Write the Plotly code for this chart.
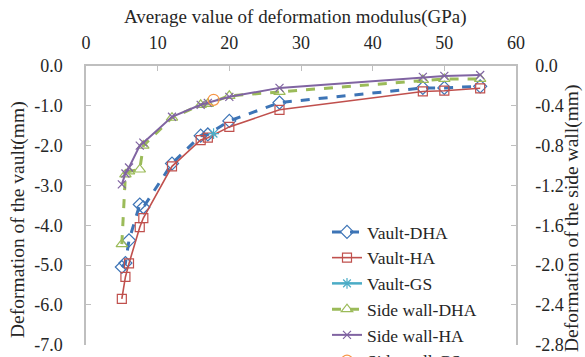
import plotly.graph_objects as go

# Average deformation modulus (GPa)
x_vals = [5, 5.5, 6, 7.5, 8, 12, 16, 17, 20, 27, 47, 50, 55]

vault_dha = [-5.05, -4.95, -4.38, -3.48, -3.55, -2.45, -1.75, -1.72, -1.38, -0.92, -0.55, -0.55, -0.51]
vault_ha = [-5.85, -5.30, -4.96, -4.05, -3.82, -2.52, -1.86, -1.80, -1.53, -1.10, -0.64, -0.62, -0.56]
side_dha = [-1.79, -1.09, -1.06, -1.04, -0.80, -0.52, -0.39, -0.38, -0.30, -0.26, -0.14, -0.13, -0.13]
side_ha = [-1.19, -1.08, -1.02, -0.80, -0.77, -0.51, -0.39, -0.37, -0.31, -0.22, -0.11, -0.10, -0.09]

gs_x = [17.8]
vault_gs = [-1.70]
side_gs = [-0.34]

x_ticks = [0, 10, 20, 30, 40, 50, 60]
y1_ticks = [0, -1, -2, -3, -4, -5, -6, -7]
y1_labels = ["0.0", "-1.0", "-2.0", "-3.0", "-4.0", "-5.0", "-6.0", "-7.0"]
y2_ticks = [0, -0.4, -0.8, -1.2, -1.6, -2.0, -2.4, -2.8]
y2_labels = ["0.0", "-0.4", "-0.8", "-1.2", "-1.6", "-2.0", "-2.4", "-2.8"]

FONT = "Liberation Serif"
AXIS_COL = "#bfbfbf"

W, H = 585, 357
L, R, T, B = 86, 69, 66, 12
PW, PH = W - L - R, H - T - B


def px_x(v):
    return (v - L) / PW


def px_y(v):
    return (H - B - v) / PH


fig = go.Figure()
fig.add_trace(go.Scatter(x=x_vals, y=vault_dha, name="Vault-DHA", mode="lines+markers",
                         line=dict(color="#3d74b6", width=3, dash="dash"),
                         marker=dict(symbol="diamond-open", size=10, color="#3d74b6", line=dict(width=1.2))))
fig.add_trace(go.Scatter(x=x_vals, y=vault_ha, name="Vault-HA", mode="lines+markers",
                         line=dict(color="#c0504d", width=1.6),
                         marker=dict(symbol="square-open", size=9, color="#c0504d", line=dict(width=1.2))))
fig.add_trace(go.Scatter(x=gs_x, y=vault_gs, name="Vault-GS", mode="lines+markers",
                         line=dict(color="#4bacc6", width=2.5),
                         marker=dict(symbol="asterisk-open", size=9, color="#4bacc6", line=dict(width=1.2, color="#4bacc6"))))
fig.add_trace(go.Scatter(x=x_vals, y=side_dha, name="Side wall-DHA", mode="lines+markers", yaxis="y2",
                         line=dict(color="#9bbb59", width=3, dash="dash"),
                         marker=dict(symbol="triangle-up-open", size=10, color="#9bbb59", line=dict(width=1.2))))
fig.add_trace(go.Scatter(x=x_vals, y=side_ha, name="Side wall-HA", mode="lines+markers", yaxis="y2",
                         line=dict(color="#8064a2", width=2),
                         marker=dict(symbol="x-thin-open", size=8, color="#8064a2", line=dict(width=1.2, color="#8064a2"))))
fig.add_trace(go.Scatter(x=gs_x, y=side_gs, name="Side wall-GS", mode="lines+markers", yaxis="y2",
                         line=dict(color="#f79646", width=2.5),
                         marker=dict(symbol="circle-open", size=11, color="#f79646", line=dict(width=1.2))))

fig.update_layout(
    width=W, height=H,
    margin=dict(l=L, r=R, t=T, b=B, autoexpand=False),
    paper_bgcolor="white", plot_bgcolor="white",
    font=dict(family=FONT, size=18, color="#262626"),
    showlegend=True,
    legend=dict(x=px_x(327), y=px_y(214), xanchor="left", yanchor="top",
                bgcolor="rgba(0,0,0,0)", font=dict(size=17.5, family=FONT),
                tracegroupgap=0, itemwidth=30),
    xaxis=dict(range=[0, 60], side="top", tickvals=x_ticks, ticks="inside", ticklen=5,
               tickcolor=AXIS_COL, showline=True, linecolor=AXIS_COL, linewidth=1.5,
               showgrid=False, zeroline=False, ticklabelstandoff=8),
    yaxis=dict(range=[-7.01, 0], tickvals=y1_ticks, ticktext=y1_labels, ticks="inside", ticklen=5,
               tickcolor=AXIS_COL, showline=True, linecolor=AXIS_COL, linewidth=1.5,
               showgrid=False, zeroline=False, ticklabelstandoff=18, ticklabeloverflow="allow"),
    yaxis2=dict(range=[-2.804, 0], tickvals=y2_ticks, ticktext=y2_labels, overlaying="y", side="right",
                ticks="inside", ticklen=5, tickcolor=AXIS_COL, showline=True, linecolor=AXIS_COL,
                linewidth=1.5, showgrid=False, zeroline=False, ticklabelstandoff=14,
                ticklabeloverflow="allow"),
    annotations=[
        dict(text="Average value of deformation modulus(GPa)", x=px_x(295), y=px_y(17),
             xref="paper", yref="paper", xanchor="center", yanchor="middle",
             showarrow=False, font=dict(size=19)),
        dict(text="Deformation of the vault(mm)", x=px_x(18), y=px_y(220),
             xref="paper", yref="paper", xanchor="center", yanchor="middle",
             showarrow=False, textangle=-90, font=dict(size=19.5)),
        dict(text="Deformation of the side wall(mm)", x=px_x(572), y=px_y(218),
             xref="paper", yref="paper", xanchor="center", yanchor="middle",
             showarrow=False, textangle=-90, font=dict(size=19.5)),
    ],
)

fig.write_html("out.html")
